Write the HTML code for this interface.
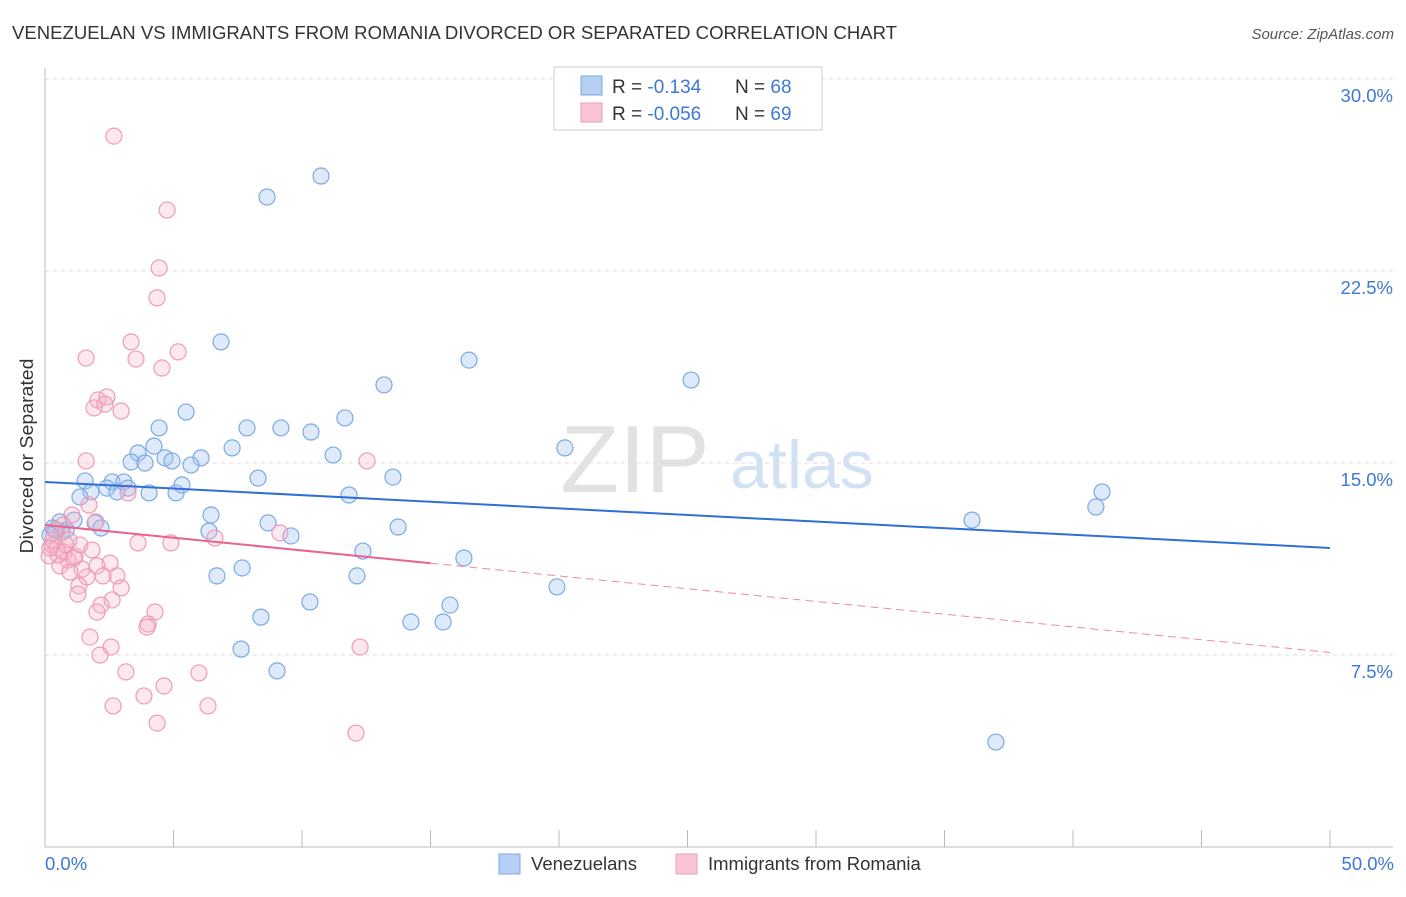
<!DOCTYPE html>
<html><head><meta charset="utf-8">
<style>
body{margin:0;background:#fff;font-family:"Liberation Sans",sans-serif;}
svg text{font-family:"Liberation Sans",sans-serif;}
</style></head>
<body>
<svg id="chart" width="1406" height="892" xmlns="http://www.w3.org/2000/svg">
<text x="12" y="39" font-size="18.5" fill="#333" textLength="885" lengthAdjust="spacingAndGlyphs">VENEZUELAN VS IMMIGRANTS FROM ROMANIA DIVORCED OR SEPARATED CORRELATION CHART</text>
<text x="1394" y="39" font-size="15" fill="#555" font-style="italic" text-anchor="end">Source: ZipAtlas.com</text>
<text x="33" y="456" font-size="18.5" fill="#333" text-anchor="middle" textLength="195" lengthAdjust="spacingAndGlyphs" transform="rotate(-90 33 456)">Divorced or Separated</text>
<g>
<text x="635" y="492" font-size="96" fill="#e2e2e2" text-anchor="middle" font-family="Liberation Serif,serif">ZIP</text>
<text x="802" y="488" font-size="68" fill="#d3e2f3" text-anchor="middle">atlas</text>
</g>
<g id="grid"></g>
<g id="axes"></g>
<g id="pts"></g>
<g id="trends"></g>
<g>
<rect x="554" y="67" width="268" height="63" fill="#fff" stroke="#ccc"/>
<rect x="581" y="76" width="21" height="19" fill="#b5d0f3" stroke="#7aaae6"/>
<rect x="581" y="103" width="21" height="19" fill="#f9c5d5" stroke="#ef9bb5"/>
<text x="612" y="93" font-size="19" fill="#333">R = <tspan fill="#3d78d6"> -0.134</tspan></text>
<text x="735" y="93" font-size="19" fill="#333">N = <tspan fill="#3d78d6">68</tspan></text>
<text x="612" y="120" font-size="19" fill="#333">R = <tspan fill="#3d78d6">-0.056</tspan></text>
<text x="735" y="120" font-size="19" fill="#333">N = <tspan fill="#3d78d6">69</tspan></text>
</g>
<g>
<rect x="499" y="854" width="21" height="20" fill="#b5d0f3" stroke="#7aaae6"/>
<text x="531" y="870" font-size="18.5" fill="#333">Venezuelans</text>
<rect x="676" y="854" width="21" height="20" fill="#f9c5d5" stroke="#ef9bb5"/>
<text x="708" y="870" font-size="18.5" fill="#333">Immigrants from Romania</text>
</g>
<text x="45" y="870" font-size="18.5" fill="#3d78d6">0.0%</text>
<text x="1394" y="870" font-size="18.5" fill="#3d78d6" text-anchor="end">50.0%</text>
</svg>
<script>
const yTicks=[30,22.5,15,7.5];
const yTickLabels=["30.0%","22.5%","15.0%","7.5%"];
const xTickVals=[0,5,10,15,20,25,30,35,40,45,50];
const blueX=[8.64,10.74,6.85,16.5,13.19,25.14,5.49,11.67,4.44,7.86,9.18,10.35,4.24,7.28,3.62,4.67,6.07,11.21,20.23,3.35,3.89,4.94,5.68,8.29,13.54,1.56,2.61,3.07,2.41,3.23,4.05,2.8,5.1,5.33,1.79,11.83,1.36,41.13,40.89,36.07,0.58,1.13,1.95,8.68,6.46,13.74,0.31,0.82,2.18,6.38,9.57,0.66,12.37,16.3,7.67,6.69,12.14,19.92,10.31,8.4,15.76,14.24,15.49,7.63,9.03,37.0,0.43,0.19];
const blueY=[25.39,26.21,19.73,19.02,18.05,18.24,16.99,16.76,16.37,16.37,16.37,16.21,15.66,15.59,15.39,15.2,15.2,15.31,15.59,15.04,15.0,15.08,14.92,14.41,14.45,14.3,14.26,14.26,14.02,14.02,13.83,13.87,13.83,14.14,13.87,13.75,13.67,13.87,13.28,12.77,12.7,12.77,12.66,12.66,12.97,12.5,12.46,12.38,12.46,12.34,12.15,12.3,11.56,11.29,10.9,10.59,10.59,10.16,9.57,8.98,9.45,8.79,8.79,7.73,6.88,4.1,12.38,12.19];
const pinkX=[2.68,4.75,4.44,4.36,3.35,5.18,1.6,3.54,4.55,2.06,2.41,1.91,2.96,2.33,12.53,1.6,3.23,1.71,1.05,1.98,9.14,6.61,3.62,4.9,0.27,0.47,0.74,1.17,0.16,0.89,2.53,2.02,0.58,1.44,0.97,1.63,2.26,2.8,1.32,1.28,2.96,2.18,4.28,2.02,4.01,3.97,1.75,2.57,2.14,12.26,3.15,5.99,4.63,3.85,2.65,6.34,4.36,12.1,0.31,0.51,0.82,0.7,1.36,0.39,1.83,1.13,2.61,0.19,0.93];
const pinkY=[27.77,24.88,22.62,21.45,19.73,19.34,19.1,19.06,18.71,17.46,17.58,17.15,17.03,17.3,15.08,15.08,13.83,13.36,12.97,12.7,12.27,12.07,11.88,11.88,11.8,11.68,11.52,11.37,11.37,11.21,11.09,10.98,10.98,10.86,10.74,10.55,10.59,10.59,10.2,9.88,10.12,9.45,9.18,9.18,8.71,8.59,8.2,7.81,7.5,7.81,6.84,6.8,6.29,5.9,5.51,5.51,4.84,4.45,11.99,11.41,11.8,12.58,11.8,12.38,11.6,11.29,9.65,11.68,11.99];
const blueTrend=[14.26,11.68];
const pinkTrend=[12.58,7.6];
const pinkSolidEnd=15;

const NS="http://www.w3.org/2000/svg";
const X=v=>45+v*25.7;
const Y=v=>847-v*25.6;
function mk(tag,attrs,parent){const e=document.createElementNS(NS,tag);for(const k in attrs)e.setAttribute(k,attrs[k]);parent.appendChild(e);return e;}
const grid=document.getElementById('grid'),axes=document.getElementById('axes'),pts=document.getElementById('pts'),tr=document.getElementById('trends'),svg=document.getElementById('chart');
yTicks.forEach((t,i)=>{
 const l=mk('line',{x1:45,x2:1393,y1:Y(t),y2:Y(t),stroke:'#ddd','stroke-dasharray':'4,4'},grid);
 
 
 const tx=mk('text',{x:1393,y:Y(t)+23,'font-size':18.5,fill:'#3d78d6','text-anchor':'end'},svg);
 tx.textContent=yTickLabels[i];
 
 
});
const xa=mk('line',{x1:45,x2:1393,y1:847,y2:847,stroke:'#bbb'},axes);


const ya=mk('line',{x1:45,x2:45,y1:68,y2:847,stroke:'#bbb'},axes);


xTickVals.forEach(v=>{
 const t=mk('line',{x1:X(v),x2:X(v),y1:830,y2:847,stroke:'#bbb'},axes);
 
 
});
blueX.forEach((x,i)=>{
 const c=mk('circle',{cx:X(x),cy:Y(blueY[i]),r:8,fill:'rgba(160,196,240,0.35)',stroke:'#7aaae6','stroke-width':1.2},pts);
 
 
});
pinkX.forEach((x,i)=>{
 const c=mk('circle',{cx:X(x),cy:Y(pinkY[i]),r:8,fill:'rgba(245,180,200,0.3)',stroke:'#ef9bb5','stroke-width':1.2},pts);
 
 
});
const bl=mk('line',{x1:X(0),y1:Y(blueTrend[0]),x2:X(50),y2:Y(blueTrend[1]),stroke:'#2f6fd6','stroke-width':2},tr);


const pAt=v=>pinkTrend[0]+(pinkTrend[1]-pinkTrend[0])*v/50;
const pl=mk('line',{x1:X(0),y1:Y(pinkTrend[0]),x2:X(pinkSolidEnd),y2:Y(pAt(pinkSolidEnd)),stroke:'#e8638e','stroke-width':2},tr);


const pd=mk('line',{x1:X(pinkSolidEnd),y1:Y(pAt(pinkSolidEnd)),x2:X(50),y2:Y(pinkTrend[1]),stroke:'#ec8aaa','stroke-width':1,'stroke-dasharray':'8,5'},tr);


</script>
</body></html>
